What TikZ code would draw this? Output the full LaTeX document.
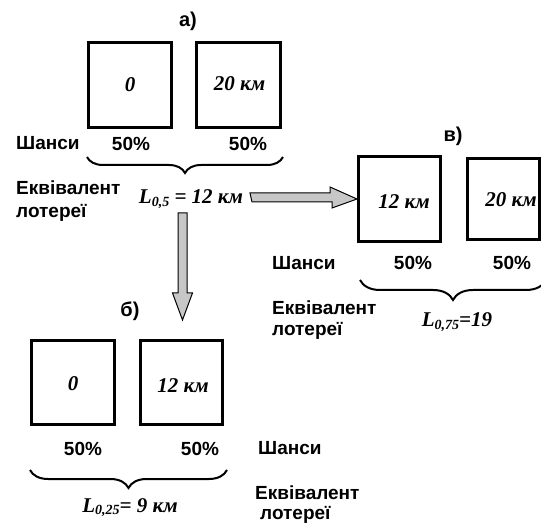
\documentclass[tikz,border=0pt]{standalone}
\usepackage{fontspec}
\setmainfont{Liberation Serif}
\newfontfamily\sanss{Liberation Sans}
\usetikzlibrary{decorations.pathreplacing}
\newcommand\lsub[1]{\raisebox{-0.25ex}{\fontsize{14}{15}\selectfont #1}}
\begin{document}
\begin{tikzpicture}[x=1pt,y=-1pt,
  lbl/.style={font=\sanss\bfseries\fontsize{19}{21}\selectfont, inner sep=0, anchor=base},
  lblw/.style={lbl, anchor=base west},
  ttl/.style={font=\sanss\bfseries\fontsize{20}{22}\selectfont, inner sep=0, anchor=base},
  val/.style={font=\bfseries\itshape\fontsize{21}{23}\selectfont, inner sep=0},
  eqv/.style={val, anchor=base},
  box/.style={draw, line width=3pt, inner sep=0},
  brc/.style={decorate, decoration={brace, mirror, amplitude=#1}, line width=2pt},
  barrow/.style={draw, fill=black!22, line width=1pt, line join=miter}]
\clip (0,0) rectangle (541,526);
\fill[white] (0,0) rectangle (541,526);

% ---- a)
\node[ttl] (ta) at (188,27) {а)};
\node[box, minimum width=83pt, minimum height=85pt] (a1) at (130,85) {};
\node[val] (a1t) at (a1.center) {0};
\node[box, minimum width=84pt, minimum height=85pt] (a2) at (238.5,85) {};
\node[val] (a2t) at (239.5,84) {20 км};
\node[lblw] (sha) at (16,150) {Шанси};
\node[lbl] (pa1) at (131,151) {50\%};
\node[lbl] (pa2) at (248,151) {50\%};
\draw[brc=16pt] (87,157) -- (283,157);
\node[lblw] (ea1) at (16,195) {Еквівалент};
\node[lblw] (ea2) at (16,218) {лотереї};
\node[eqv] (la) at (191,204) {L\lsub{0,5} = 12 км};

% ---- в)
\node[ttl] (tv) at (453,142) {в)};
\node[box, minimum width=82pt, minimum height=85pt] (v1) at (399.5,199) {};
\node[val] (v1t) at (404,202) {12 км};
\node[box, minimum width=72pt, minimum height=81pt] (v2) at (503.5,199) {};
\node[val] (v2t) at (511,200) {20 км};
\node[lblw] (shv) at (272,270) {Шанси};
\node[lbl] (pv1) at (413,270) {50\%};
\node[lbl] (pv2) at (512,270) {50\%};
\draw[brc=20pt] (360,280) -- (546,280);
\node[lblw] (ev1) at (272,315) {Еквівалент};
\node[lblw] (ev2) at (272,336) {лотереї};
\node[eqv] (lv) at (457,327) {L\lsub{0,75}=19};

% ---- б)
\node[ttl] (tb) at (130,317) {б)};
\node[box, minimum width=83pt, minimum height=84pt] (b1) at (73,382.5) {};
\node[val] (b1t) at (73,384) {0};
\node[box, minimum width=82pt, minimum height=84pt] (b2) at (181.5,382.5) {};
\node[val] (b2t) at (183,386) {12 км};
\node[lbl] (pb1) at (83,456) {50\%};
\node[lbl] (pb2) at (200,456) {50\%};
\node[lblw] (shb) at (258,454) {Шанси};
\draw[brc=18pt] (30,470) -- (227,470);
\node[lblw] (eb1) at (255,500) {Еквівалент};
\node[lblw] (eb2) at (260,519) {лотереї};
\node[eqv] (lb) at (130,512) {L\lsub{0,25}= 9 км};

% ---- block arrows
\coordinate (hs) at (250,196);
\coordinate (ht) at (v1.west);
\draw[barrow] (hs) ++(0,-3) -- ++(80,0) -- ++(0,-6) -- (ht) -- ++(-25,9) -- ++(0,-6) -- ++(-80,0) -- cycle;
\coordinate (vs) at (182.5,213);
\coordinate (vt) at (182.5,320);
\draw[barrow] (vs) ++(-4.5,0) -- ++(9,0) -- ++(0,80) -- ++(5.5,0) -- (vt) -- ++(-10,-27) -- ++(5.5,0) -- cycle;
\end{tikzpicture}
\end{document}
